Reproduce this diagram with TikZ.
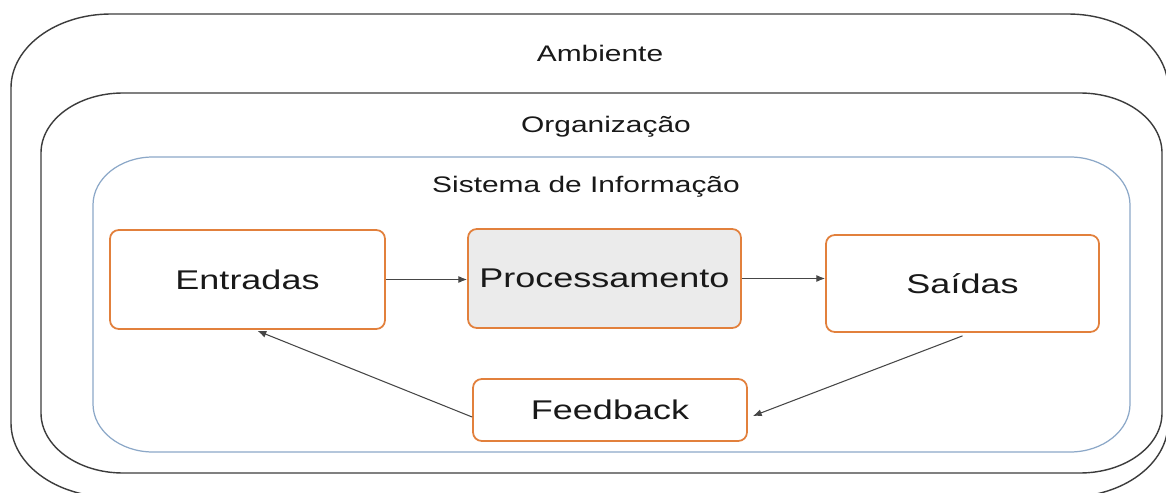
\documentclass[tikz,border=0pt]{standalone}
\usepackage{fontspec}
\setmainfont{Liberation Sans}[FakeStretch=1.33]
\usetikzlibrary{arrows.meta}
\definecolor{boxorange}{RGB}{226,128,60}
\definecolor{sysblue}{RGB}{140,168,200}
\definecolor{frame}{RGB}{60,60,60}
\definecolor{procgray}{RGB}{235,235,235}
\definecolor{arrowgray}{RGB}{70,70,70}
\newcommand{\ellrect}[7]{% style, x1,y1,x2,y2,rx,ry
  \draw[#1] (#2,#3+#7) .. controls (#2,#3+0.448*#7) and (#2+0.448*#6,#3) .. (#2+#6,#3)
    -- (#4-#6,#3) .. controls (#4-0.448*#6,#3) and (#4,#3+0.448*#7) .. (#4,#3+#7)
    -- (#4,#5-#7) .. controls (#4,#5-0.448*#7) and (#4-0.448*#6,#5) .. (#4-#6,#5)
    -- (#2+#6,#5) .. controls (#2+0.448*#6,#5) and (#2,#5-0.448*#7) .. (#2,#5-#7) -- cycle;}
\tikzset{
  container/.style={draw=frame, line width=0.8pt},
  sysframe/.style={draw=sysblue, line width=0.7pt},
  title/.style={font=\fontsize{12.8pt}{15pt}\selectfont, text=black!90},
  stepbox/.style={draw=boxorange, line width=1pt, rounded corners=5pt, fill=white,
    font=\fontsize{15.4pt}{18pt}\selectfont, text=black!90, inner sep=0pt},
  flow/.style={draw=arrowgray, line width=0.6pt, -{Latex[length=5pt,width=4pt]}}
}
\begin{document}
\begin{tikzpicture}[x=0.02cm, y=-0.02cm]
\useasboundingbox (0,0) rectangle (1166,493);
\fill[white] (0,0) rectangle (1166,493);
\ellrect{container}{11}{14}{1168}{497}{100}{74}
\ellrect{container}{41}{93}{1162}{473}{82}{60}
\ellrect{sysframe}{93}{157}{1130}{452}{60}{48}
\node[title] (amb) at (600,53) {Ambiente};
\node[title] (org) at (606,127) {Organização};
\node[title] (sis) at (586,187) {Sistema de Informação};
\node[stepbox, minimum width=275*0.02cm, minimum height=99*0.02cm] (E) at (247.5,279.5) {Entradas};
\node[stepbox, fill=procgray, minimum width=273*0.02cm, minimum height=99*0.02cm] (P) at (604.5,278.5) {Processamento};
\node[stepbox, minimum width=273*0.02cm, minimum height=97*0.02cm] (S) at (962.5,283.5) {Saídas};
\node[stepbox, minimum width=274*0.02cm, minimum height=62*0.02cm] (F) at (610,410) {Feedback};
\draw[flow] (E.east) -- (P.west |- E.east);
\draw[flow] (P.east) -- (S.west |- P.east);
\draw[flow] ([shift={(0,3)}]S.south) -- ([shift={(5,6)}]F.east);
\draw[flow] ([shift={(0,7)}]F.west) -- ([shift={(10,1)}]E.south);
\end{tikzpicture}
\end{document}
